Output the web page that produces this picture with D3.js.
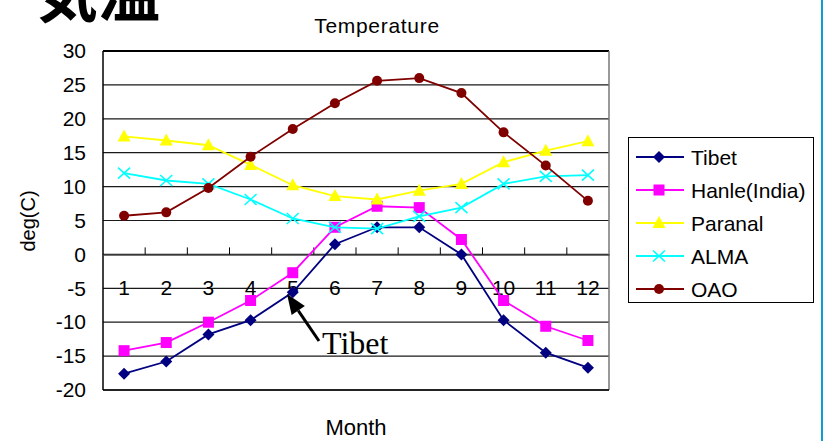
<html>
<head>
<meta charset="utf-8">
<script src="https://d3js.org/d3.v7.min.js"></script>
<style>
body { margin: 0; background: #fff; }
text { font-family: "Liberation Sans", Arial, sans-serif; }
</style>
</head>
<body>
<div id="chart"></div>
<script>
var months = [1, 2, 3, 4, 5, 6, 7, 8, 9, 10, 11, 12]
var yTicks = [30, 25, 20, 15, 10, 5, 0, -5, -10, -15, -20]

var tibet   = [-17.6, -15.8, -11.8, -9.7, -5.6, 1.5, 4.0, 4.0, 0.0, -9.7, -14.5, -16.7]
var hanle   = [-14.2, -13.0, -10.0, -6.8, -2.7, 4.0, 7.1, 6.9, 2.2, -6.8, -10.6, -12.7]
var paranal = [17.4, 16.8, 16.1, 13.2, 10.2, 8.6, 8.1, 9.4, 10.4, 13.6, 15.3, 16.7]
var alma    = [12.0, 10.9, 10.4, 8.1, 5.3, 4.0, 3.8, 5.6, 6.9, 10.4, 11.5, 11.7]
var oao     = [5.7, 6.2, 9.8, 14.4, 18.5, 22.3, 25.6, 26.0, 23.8, 18.0, 13.1, 7.9]

var seriesNames = ["Tibet", "Hanle(India)", "Paranal", "ALMA", "OAO"]
var seriesValues = [tibet, hanle, paranal, alma, oao]
var seriesColors = ["#000080", "#ff00ff", "#ffff00", "#00ffff", "#800000"]
var seriesMarkers = ["diamond", "square", "triangle", "x", "circle"]

var width = 823
var height = 441
var plotLeft = 103, plotRight = 609, plotTop = 51, plotBottom = 390

var svg = d3.select("#chart")
	.append("svg")
	.attr("width", width)
	.attr("height", height)

var x = d3.scaleBand()
	.domain(months)
	.range([plotLeft, plotRight])
	.paddingInner(0)
	.paddingOuter(0)

var y = d3.scaleLinear()
	.domain([-20, 30])
	.range([plotBottom, plotTop])

// big heading, cut at the top of the slide
svg.append("text")
	.attr("x", 36)
	.attr("y", 17)
	.style("font-family", "'Noto Sans CJK JP', sans-serif")
	.style("font-weight", "bold")
	.style("font-size", "62px")
	.text("気温")

// slide border on the right
svg.append("line")
	.attr("x1", 822).attr("x2", 822)
	.attr("y1", 0).attr("y2", height)
	.style("stroke", "#0a9fcf")
	.style("stroke-width", 2)

svg.append("text")
	.attr("x", 377)
	.attr("y", 33)
	.attr("text-anchor", "middle")
	.style("font-size", "21px")
	.style("letter-spacing", "0.7px")
	.text("Temperature")

// gridlines
svg.selectAll(".grid")
	.data(yTicks)
	.enter()
	.append("line")
	.attr("class", "grid")
	.attr("x1", plotLeft)
	.attr("x2", plotRight)
	.attr("y1", function(d){ return y(d) })
	.attr("y2", function(d){ return y(d) })
	.style("stroke", function(d){ return d == 30 ? "#000" : "#1a1a1a" })
	.style("stroke-width", function(d){ return d == 30 ? 2 : 1.2 })

// plot border left / right / bottom
svg.append("line")
	.attr("x1", plotLeft).attr("x2", plotLeft)
	.attr("y1", plotTop).attr("y2", plotBottom)
	.style("stroke", "#000").style("stroke-width", 1.5)
svg.append("line")
	.attr("x1", plotRight).attr("x2", plotRight)
	.attr("y1", plotTop).attr("y2", plotBottom)
	.style("stroke", "#777").style("stroke-width", 1.5)
svg.append("line")
	.attr("x1", plotLeft).attr("x2", plotRight)
	.attr("y1", plotBottom).attr("y2", plotBottom)
	.style("stroke", "#000").style("stroke-width", 1.5)

// y axis labels
var yAxis = d3.axisLeft(y)
	.tickValues(yTicks)
	.tickSize(0)
	.tickPadding(17)
	.tickFormat(function(d){ return d })

var gy = svg.append("g")
	.attr("transform", "translate(" + plotLeft + ",0)")
	.call(yAxis)
gy.select(".domain").remove()
gy.selectAll("text")
	.style("font-size", "21px")
	.style("font-family", "'Liberation Sans', Arial, sans-serif")
	.attr("fill", "#000")

// category axis crossing at 0
var xAxis = d3.axisTop(x)
	.tickSize(0)
	.tickFormat("")
var gx = svg.append("g")
	.attr("transform", "translate(0," + y(0) + ")")
	.call(xAxis)
gx.select(".domain")
	.style("stroke", "#444")
	.style("stroke-width", 1.5)

svg.selectAll(".tickmark")
	.data(months.slice(1))
	.enter()
	.append("line")
	.attr("class", "tickmark")
	.attr("x1", function(d){ return x(d) })
	.attr("x2", function(d){ return x(d) })
	.attr("y1", y(0))
	.attr("y2", y(0) - 7)
	.style("stroke", "#000")
	.style("stroke-width", 1)

svg.selectAll(".xlabel")
	.data(months)
	.enter()
	.append("text")
	.attr("class", "xlabel")
	.attr("x", function(d){ return x(d) + x.bandwidth() / 2 })
	.attr("y", y(0) + 41)
	.attr("text-anchor", "middle")
	.style("font-size", "21px")
	.text(function(d){ return d })

svg.append("text")
	.attr("transform", "translate(35,221) rotate(-90)")
	.attr("text-anchor", "middle")
	.style("font-size", "20px")
	.text("deg(C)")

svg.append("text")
	.attr("x", 356)
	.attr("y", 435)
	.attr("text-anchor", "middle")
	.style("font-size", "22px")
	.text("Month")

function drawMarker(g, type, color, cx, cy) {
	if (type == "diamond") {
		g.append("path")
			.attr("d", "M" + cx + "," + (cy - 6) + "L" + (cx + 6) + "," + cy + "L" + cx + "," + (cy + 6) + "L" + (cx - 6) + "," + cy + "Z")
			.style("fill", color)
	} else if (type == "square") {
		g.append("rect")
			.attr("x", cx - 5.5).attr("y", cy - 5.5)
			.attr("width", 11).attr("height", 11)
			.style("fill", color)
	} else if (type == "triangle") {
		g.append("path")
			.attr("d", "M" + cx + "," + (cy - 7) + "L" + (cx + 6.5) + "," + (cy + 5) + "L" + (cx - 6.5) + "," + (cy + 5) + "Z")
			.style("fill", color)
	} else if (type == "x") {
		g.append("path")
			.attr("d", "M" + (cx - 6) + "," + (cy - 5.5) + "L" + (cx + 6) + "," + (cy + 5.5) + "M" + (cx + 6) + "," + (cy - 5.5) + "L" + (cx - 6) + "," + (cy + 5.5))
			.style("stroke", color)
			.style("stroke-width", 1.6)
			.style("fill", "none")
	} else if (type == "circle") {
		g.append("circle")
			.attr("cx", cx).attr("cy", cy).attr("r", 5)
			.style("fill", color)
	}
}

var line = d3.line()
	.x(function(d, i){ return x(months[i]) + x.bandwidth() / 2 })
	.y(function(d){ return y(d) })

for (var s = 0; s < seriesValues.length; s++) {
	var g = svg.append("g").attr("class", "series")
	g.append("path")
		.datum(seriesValues[s])
		.attr("d", line)
		.style("fill", "none")
		.style("stroke", seriesColors[s])
		.style("stroke-width", 1.8)
	for (var i = 0; i < months.length; i++) {
		drawMarker(g, seriesMarkers[s], seriesColors[s], x(months[i]) + x.bandwidth() / 2, y(seriesValues[s][i]))
	}
}

// annotation arrow
var tail = [319, 341], tip = [287, 294]
var dx = tip[0] - tail[0], dy = tip[1] - tail[1]
var len = Math.sqrt(dx * dx + dy * dy)
var ux = dx / len, uy = dy / len
var bx = tip[0] - 20 * ux, by = tip[1] - 20 * uy
svg.append("line")
	.attr("x1", tail[0]).attr("y1", tail[1])
	.attr("x2", bx).attr("y2", by)
	.style("stroke", "#000")
	.style("stroke-width", 3)
svg.append("path")
	.attr("d", "M" + tip[0] + "," + tip[1] +
		"L" + (bx - 8 * uy) + "," + (by + 8 * ux) +
		"L" + (bx + 8 * uy) + "," + (by - 8 * ux) + "Z")
	.style("fill", "#000")

svg.append("text")
	.attr("x", 322)
	.attr("y", 354)
	.style("font-family", "'Liberation Serif', 'Times New Roman', serif")
	.style("font-size", "32px")
	.text("Tibet")

// legend
svg.append("rect")
	.attr("x", 628.5).attr("y", 137.5)
	.attr("width", 185).attr("height", 165)
	.style("fill", "#fff")
	.style("stroke", "#000")
	.style("stroke-width", 1)
var legend = svg.append("g")

for (var k = 0; k < seriesNames.length; k++) {
	var ly = 157 + k * 33
	legend.append("line")
		.attr("x1", 636).attr("x2", 684)
		.attr("y1", ly).attr("y2", ly)
		.style("stroke", seriesColors[k])
		.style("stroke-width", 1.8)
	drawMarker(legend, seriesMarkers[k], seriesColors[k], 659, ly)
	legend.append("text")
		.attr("x", 691)
		.attr("y", ly + 7.5)
		.style("font-size", "21px")
		.text(seriesNames[k])
}
</script>
</body>
</html>
